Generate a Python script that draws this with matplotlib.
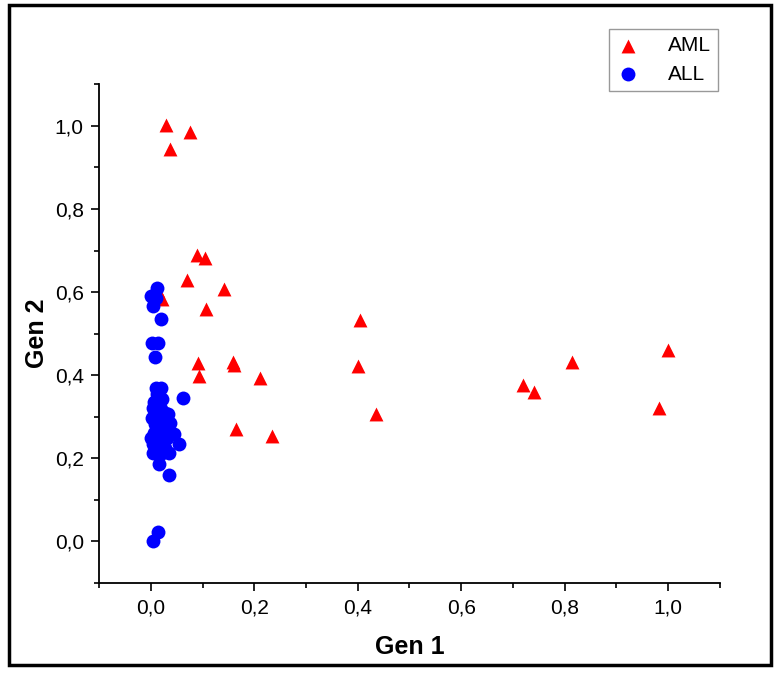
import matplotlib.pyplot as plt
from matplotlib.ticker import MultipleLocator, FuncFormatter
from matplotlib.patches import Rectangle

plt.rcParams['font.family'] = ['Liberation Sans Narrow', 'Liberation Sans', 'DejaVu Sans']

# AML samples (red triangles)
aml_x = [0.029, 0.075, 0.037, 0.089, 0.104, 0.070, 0.141, 0.106, 0.014, 0.021,
         0.404, 0.400, 0.091, 0.158, 0.160, 0.093, 0.211, 0.435, 0.164, 0.234,
         0.720, 0.741, 0.814, 1.000, 0.983]
aml_y = [1.002, 0.985, 0.945, 0.689, 0.682, 0.629, 0.607, 0.559, 0.602, 0.583,
         0.533, 0.422, 0.429, 0.431, 0.425, 0.398, 0.393, 0.306, 0.270, 0.253,
         0.376, 0.359, 0.431, 0.460, 0.320]

# ALL samples (blue circles)
all_x = [0.012, 0.000, 0.010, 0.004, 0.019, 0.002, 0.014, 0.008,
         0.010, 0.019, 0.062, 0.021, 0.004, 0.014, 0.027, 0.033, 0.002, 0.017,
         0.037, 0.008, 0.023, 0.044, 0.000, 0.014, 0.031, 0.054, 0.004, 0.021,
         0.035, 0.004, 0.021, 0.015, 0.035,
         0.014, 0.004,
         0.012, 0.006, 0.020, 0.010, 0.026, 0.012, 0.028, 0.006, 0.018, 0.010,
         0.028, 0.016]
all_y = [0.610, 0.590, 0.586, 0.566, 0.535, 0.477, 0.477, 0.443,
         0.369, 0.369, 0.345, 0.342, 0.320, 0.325, 0.308, 0.306, 0.296, 0.296,
         0.284, 0.282, 0.277, 0.258, 0.248, 0.253, 0.248, 0.234, 0.234, 0.234,
         0.212, 0.212, 0.212, 0.186, 0.159,
         0.022, 0.000,
         0.355, 0.335, 0.318, 0.310, 0.292, 0.270, 0.262, 0.262, 0.244, 0.222,
         0.225, 0.300]

fig = plt.figure(figsize=(7.74, 6.73), dpi=100)
ax = fig.add_axes([0.128, 0.1337, 0.802, 0.741])

ax.scatter(aml_x, aml_y, marker="^", s=100, color="#ff0000", linewidths=0, label="AML")
ax.scatter(all_x, all_y, marker="o", s=100, color="#0000ff", linewidths=0, label="ALL")

ax.set_xlim(-0.1, 1.1)
ax.set_ylim(-0.1, 1.1)

comma = FuncFormatter(lambda v, p: f"{v:.1f}".replace(".", ","))
for axis in (ax.xaxis, ax.yaxis):
    axis.set_major_locator(MultipleLocator(0.2))
    axis.set_minor_locator(MultipleLocator(0.1))
    axis.set_major_formatter(comma)

ax.tick_params(which="major", direction="out", length=6, width=1.2, labelsize=15, pad=5)
ax.tick_params(which="minor", direction="out", length=3.5, width=1.2)

ax.spines["top"].set_visible(False)
ax.spines["right"].set_visible(False)
ax.spines["left"].set_linewidth(1.3)
ax.spines["bottom"].set_linewidth(1.3)

ax.set_xlabel("Gen 1", fontsize=18, fontweight="bold", labelpad=13)
ax.set_ylabel("Gen 2", fontsize=18, fontweight="bold", labelpad=4)

leg = ax.legend(loc="upper right", bbox_to_anchor=(0.928, 0.957),
                bbox_transform=fig.transFigure, fontsize=15, frameon=True,
                fancybox=False, edgecolor="#808080", handlelength=1.2,
                handletextpad=1.3, borderpad=0.35, labelspacing=0.45,
                borderaxespad=0, markerscale=1.0)
leg.get_frame().set_linewidth(1.0)

# outer black frame
fig.patches.append(Rectangle((0.012, 0.012), 0.984, 0.98, transform=fig.transFigure,
                             fill=False, edgecolor="black", linewidth=2.5))

fig.savefig("out.png", dpi=100)
